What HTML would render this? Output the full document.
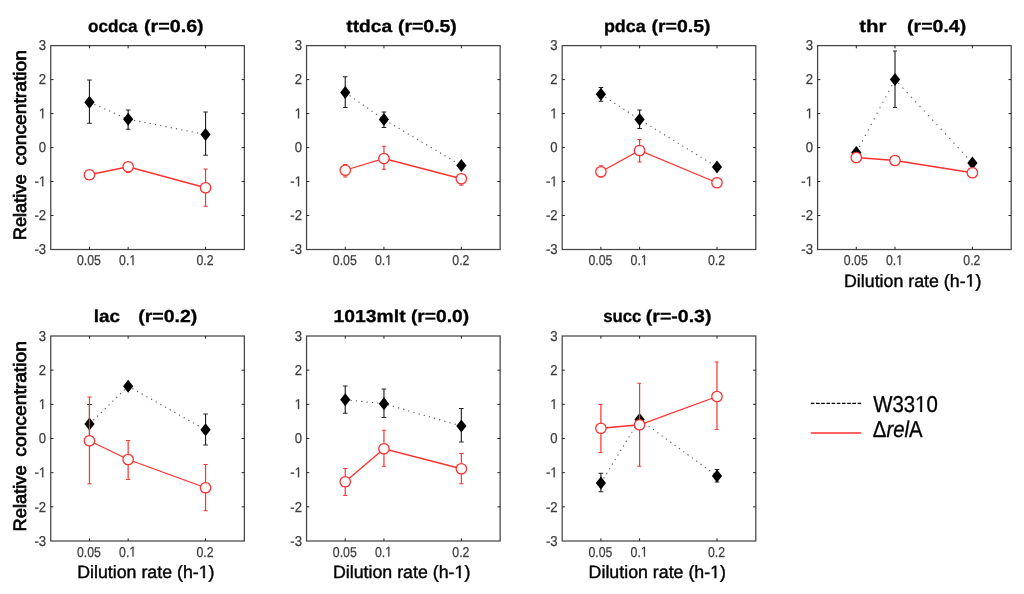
<!DOCTYPE html>
<html><head><meta charset="utf-8"><title>chart</title>
<style>
html,body{margin:0;padding:0;background:#fff;}
body{width:1024px;height:594px;overflow:hidden;font-family:"Liberation Sans",sans-serif;}
svg{display:block;filter:blur(0.35px)}
text{font-family:"Liberation Sans",sans-serif;text-rendering:geometricPrecision;}
.tk{font-size:14.3px;fill:#3c3c3c;stroke:#3c3c3c;stroke-width:0.25px;}
.tk1{fill:#3c3c3c;stroke:#3c3c3c;stroke-width:36;}
.lb{font-size:17.8px;fill:#000;stroke:#000;stroke-width:0.4px;}
.ti{font-size:17.4px;font-weight:bold;fill:#000;stroke:#000;stroke-width:0.3px;}
.lb1{fill:#000;stroke:#000;stroke-width:46;}
.yl{font-size:17.9px;fill:#000;stroke:#000;stroke-width:0.7px;}
.lg{font-size:22.9px;fill:#000;stroke:#000;stroke-width:0.3px;}
</style></head><body>
<svg width="1024" height="594" viewBox="0 0 1024 594">
<rect width="1024" height="594" fill="#fff"/>
<rect x="50.75" y="45.60" width="193.60" height="203.90" fill="none" stroke="#454545" stroke-width="1.25"/>
<line x1="89.45" y1="249.50" x2="89.45" y2="246.80" stroke="#222" stroke-width="1.0" />
<line x1="89.45" y1="45.60" x2="89.45" y2="48.30" stroke="#222" stroke-width="1.0" />
<g transform="translate(88.95 265.10) scale(0.86 1)"><text x="-13.92" y="0" class="tk">0.05</text></g>
<line x1="128.15" y1="249.50" x2="128.15" y2="246.80" stroke="#222" stroke-width="1.0" />
<line x1="128.15" y1="45.60" x2="128.15" y2="48.30" stroke="#222" stroke-width="1.0" />
<g transform="translate(127.65 265.10) scale(0.86 1)"><text x="-9.94" y="0" class="tk">0.</text><path class="tk1" transform="translate(1.99 0) scale(0.006982 -0.006982)" d="M515 0V1237L197 1010V1180L530 1409H696V0Z"/></g>
<line x1="205.55" y1="249.50" x2="205.55" y2="246.80" stroke="#222" stroke-width="1.0" />
<line x1="205.55" y1="45.60" x2="205.55" y2="48.30" stroke="#222" stroke-width="1.0" />
<g transform="translate(205.05 265.10) scale(0.86 1)"><text x="-9.94" y="0" class="tk">0.2</text></g>
<g transform="translate(46.15 254.20) scale(0.92 1)"><text x="-12.71" y="0" class="tk">-3</text></g>
<line x1="50.75" y1="215.52" x2="53.45" y2="215.52" stroke="#222" stroke-width="1.0" />
<line x1="244.35" y1="215.52" x2="241.65" y2="215.52" stroke="#222" stroke-width="1.0" />
<g transform="translate(46.15 220.22) scale(0.92 1)"><text x="-12.71" y="0" class="tk">-2</text></g>
<line x1="50.75" y1="181.53" x2="53.45" y2="181.53" stroke="#222" stroke-width="1.0" />
<line x1="244.35" y1="181.53" x2="241.65" y2="181.53" stroke="#222" stroke-width="1.0" />
<g transform="translate(46.15 186.23) scale(0.92 1)"><text x="-12.71" y="0" class="tk">-</text><path class="tk1" transform="translate(-7.95 0) scale(0.006982 -0.006982)" d="M515 0V1237L197 1010V1180L530 1409H696V0Z"/></g>
<line x1="50.75" y1="147.55" x2="53.45" y2="147.55" stroke="#222" stroke-width="1.0" />
<line x1="244.35" y1="147.55" x2="241.65" y2="147.55" stroke="#222" stroke-width="1.0" />
<g transform="translate(46.15 152.25) scale(0.92 1)"><text x="-7.95" y="0" class="tk">0</text></g>
<line x1="50.75" y1="113.57" x2="53.45" y2="113.57" stroke="#222" stroke-width="1.0" />
<line x1="244.35" y1="113.57" x2="241.65" y2="113.57" stroke="#222" stroke-width="1.0" />
<g transform="translate(46.15 118.27) scale(0.92 1)"><path class="tk1" transform="translate(-7.95 0) scale(0.006982 -0.006982)" d="M515 0V1237L197 1010V1180L530 1409H696V0Z"/></g>
<line x1="50.75" y1="79.58" x2="53.45" y2="79.58" stroke="#222" stroke-width="1.0" />
<line x1="244.35" y1="79.58" x2="241.65" y2="79.58" stroke="#222" stroke-width="1.0" />
<g transform="translate(46.15 84.28) scale(0.92 1)"><text x="-7.95" y="0" class="tk">2</text></g>
<g transform="translate(46.15 50.30) scale(0.92 1)"><text x="-7.95" y="0" class="tk">3</text></g>
<text x="88.10" y="31.60" class="ti" textLength="49.50" lengthAdjust="spacingAndGlyphs">ocdca</text>
<text x="143.90" y="31.60" class="ti" textLength="59.80" lengthAdjust="spacingAndGlyphs">(r=0.6)</text>
<polyline points="89.45,102.25 128.15,119.25 205.55,134.50" fill="none" stroke="#5a5a5a" stroke-width="1.1" stroke-dasharray="1.25 4.1"/>
<line x1="89.45" y1="80.00" x2="89.45" y2="123.25" stroke="#222" stroke-width="1.15" />
<line x1="87.15" y1="80.00" x2="91.75" y2="80.00" stroke="#222" stroke-width="1.0" />
<line x1="87.15" y1="123.25" x2="91.75" y2="123.25" stroke="#222" stroke-width="1.0" />
<path d="M89.45 95.65 L94.55 102.25 L89.45 108.85 L84.35 102.25 Z" fill="#000"/>
<line x1="128.15" y1="110.00" x2="128.15" y2="129.25" stroke="#222" stroke-width="1.15" />
<line x1="125.85" y1="110.00" x2="130.45" y2="110.00" stroke="#222" stroke-width="1.0" />
<line x1="125.85" y1="129.25" x2="130.45" y2="129.25" stroke="#222" stroke-width="1.0" />
<path d="M128.15 112.65 L133.25 119.25 L128.15 125.85 L123.05 119.25 Z" fill="#000"/>
<line x1="205.55" y1="112.00" x2="205.55" y2="155.25" stroke="#222" stroke-width="1.15" />
<line x1="203.25" y1="112.00" x2="207.85" y2="112.00" stroke="#222" stroke-width="1.0" />
<line x1="203.25" y1="155.25" x2="207.85" y2="155.25" stroke="#222" stroke-width="1.0" />
<path d="M205.55 127.90 L210.65 134.50 L205.55 141.10 L200.45 134.50 Z" fill="#000"/>
<line x1="128.15" y1="166.75" x2="128.15" y2="172.50" stroke="#ff3030" stroke-width="1.2" />
<line x1="126.05" y1="172.50" x2="130.25" y2="172.50" stroke="#ff3030" stroke-width="1.0" />
<line x1="205.55" y1="169.00" x2="205.55" y2="206.25" stroke="#ff3030" stroke-width="1.2" />
<line x1="203.45" y1="169.00" x2="207.65" y2="169.00" stroke="#ff3030" stroke-width="1.0" />
<line x1="203.45" y1="206.25" x2="207.65" y2="206.25" stroke="#ff3030" stroke-width="1.0" />
<polyline points="89.45,174.75 128.15,166.75 205.55,187.75" fill="none" stroke="#ff3030" stroke-width="1.3"/>
<circle cx="89.45" cy="174.75" r="5.2" fill="#fff" stroke="#ff3030" stroke-width="1.3"/>
<circle cx="128.15" cy="166.75" r="5.2" fill="#fff" stroke="#ff3030" stroke-width="1.3"/>
<circle cx="205.55" cy="187.75" r="5.2" fill="#fff" stroke="#ff3030" stroke-width="1.3"/>
<rect x="306.55" y="45.60" width="193.60" height="203.90" fill="none" stroke="#454545" stroke-width="1.25"/>
<line x1="345.25" y1="249.50" x2="345.25" y2="246.80" stroke="#222" stroke-width="1.0" />
<line x1="345.25" y1="45.60" x2="345.25" y2="48.30" stroke="#222" stroke-width="1.0" />
<g transform="translate(344.75 265.10) scale(0.86 1)"><text x="-13.92" y="0" class="tk">0.05</text></g>
<line x1="383.95" y1="249.50" x2="383.95" y2="246.80" stroke="#222" stroke-width="1.0" />
<line x1="383.95" y1="45.60" x2="383.95" y2="48.30" stroke="#222" stroke-width="1.0" />
<g transform="translate(383.45 265.10) scale(0.86 1)"><text x="-9.94" y="0" class="tk">0.</text><path class="tk1" transform="translate(1.99 0) scale(0.006982 -0.006982)" d="M515 0V1237L197 1010V1180L530 1409H696V0Z"/></g>
<line x1="461.35" y1="249.50" x2="461.35" y2="246.80" stroke="#222" stroke-width="1.0" />
<line x1="461.35" y1="45.60" x2="461.35" y2="48.30" stroke="#222" stroke-width="1.0" />
<g transform="translate(460.85 265.10) scale(0.86 1)"><text x="-9.94" y="0" class="tk">0.2</text></g>
<g transform="translate(301.95 254.20) scale(0.92 1)"><text x="-12.71" y="0" class="tk">-3</text></g>
<line x1="306.55" y1="215.52" x2="309.25" y2="215.52" stroke="#222" stroke-width="1.0" />
<line x1="500.15" y1="215.52" x2="497.45" y2="215.52" stroke="#222" stroke-width="1.0" />
<g transform="translate(301.95 220.22) scale(0.92 1)"><text x="-12.71" y="0" class="tk">-2</text></g>
<line x1="306.55" y1="181.53" x2="309.25" y2="181.53" stroke="#222" stroke-width="1.0" />
<line x1="500.15" y1="181.53" x2="497.45" y2="181.53" stroke="#222" stroke-width="1.0" />
<g transform="translate(301.95 186.23) scale(0.92 1)"><text x="-12.71" y="0" class="tk">-</text><path class="tk1" transform="translate(-7.95 0) scale(0.006982 -0.006982)" d="M515 0V1237L197 1010V1180L530 1409H696V0Z"/></g>
<line x1="306.55" y1="147.55" x2="309.25" y2="147.55" stroke="#222" stroke-width="1.0" />
<line x1="500.15" y1="147.55" x2="497.45" y2="147.55" stroke="#222" stroke-width="1.0" />
<g transform="translate(301.95 152.25) scale(0.92 1)"><text x="-7.95" y="0" class="tk">0</text></g>
<line x1="306.55" y1="113.57" x2="309.25" y2="113.57" stroke="#222" stroke-width="1.0" />
<line x1="500.15" y1="113.57" x2="497.45" y2="113.57" stroke="#222" stroke-width="1.0" />
<g transform="translate(301.95 118.27) scale(0.92 1)"><path class="tk1" transform="translate(-7.95 0) scale(0.006982 -0.006982)" d="M515 0V1237L197 1010V1180L530 1409H696V0Z"/></g>
<line x1="306.55" y1="79.58" x2="309.25" y2="79.58" stroke="#222" stroke-width="1.0" />
<line x1="500.15" y1="79.58" x2="497.45" y2="79.58" stroke="#222" stroke-width="1.0" />
<g transform="translate(301.95 84.28) scale(0.92 1)"><text x="-7.95" y="0" class="tk">2</text></g>
<g transform="translate(301.95 50.30) scale(0.92 1)"><text x="-7.95" y="0" class="tk">3</text></g>
<text x="346.30" y="31.60" class="ti" textLength="45.80" lengthAdjust="spacingAndGlyphs">ttdca</text>
<text x="398.00" y="31.60" class="ti" textLength="58.80" lengthAdjust="spacingAndGlyphs">(r=0.5)</text>
<polyline points="345.25,92.50 383.95,119.50 461.35,165.50" fill="none" stroke="#5a5a5a" stroke-width="1.1" stroke-dasharray="1.25 4.1"/>
<line x1="345.25" y1="76.75" x2="345.25" y2="107.50" stroke="#222" stroke-width="1.15" />
<line x1="342.95" y1="76.75" x2="347.55" y2="76.75" stroke="#222" stroke-width="1.0" />
<line x1="342.95" y1="107.50" x2="347.55" y2="107.50" stroke="#222" stroke-width="1.0" />
<path d="M345.25 85.90 L350.35 92.50 L345.25 99.10 L340.15 92.50 Z" fill="#000"/>
<line x1="383.95" y1="112.00" x2="383.95" y2="127.50" stroke="#222" stroke-width="1.15" />
<line x1="381.65" y1="112.00" x2="386.25" y2="112.00" stroke="#222" stroke-width="1.0" />
<line x1="381.65" y1="127.50" x2="386.25" y2="127.50" stroke="#222" stroke-width="1.0" />
<path d="M383.95 112.90 L389.05 119.50 L383.95 126.10 L378.85 119.50 Z" fill="#000"/>
<path d="M461.35 158.90 L466.45 165.50 L461.35 172.10 L456.25 165.50 Z" fill="#000"/>
<line x1="345.25" y1="164.50" x2="345.25" y2="177.00" stroke="#ff3030" stroke-width="1.2" />
<line x1="343.15" y1="164.50" x2="347.35" y2="164.50" stroke="#ff3030" stroke-width="1.0" />
<line x1="343.15" y1="177.00" x2="347.35" y2="177.00" stroke="#ff3030" stroke-width="1.0" />
<line x1="383.95" y1="146.25" x2="383.95" y2="169.25" stroke="#ff3030" stroke-width="1.2" />
<line x1="381.85" y1="146.25" x2="386.05" y2="146.25" stroke="#ff3030" stroke-width="1.0" />
<line x1="381.85" y1="169.25" x2="386.05" y2="169.25" stroke="#ff3030" stroke-width="1.0" />
<line x1="461.35" y1="178.75" x2="461.35" y2="185.20" stroke="#ff3030" stroke-width="1.2" />
<line x1="459.25" y1="185.20" x2="463.45" y2="185.20" stroke="#ff3030" stroke-width="1.0" />
<polyline points="345.25,170.25 383.95,158.50 461.35,178.75" fill="none" stroke="#ff3030" stroke-width="1.3"/>
<circle cx="345.25" cy="170.25" r="5.2" fill="#fff" stroke="#ff3030" stroke-width="1.3"/>
<circle cx="383.95" cy="158.50" r="5.2" fill="#fff" stroke="#ff3030" stroke-width="1.3"/>
<circle cx="461.35" cy="178.75" r="5.2" fill="#fff" stroke="#ff3030" stroke-width="1.3"/>
<rect x="562.20" y="45.60" width="193.60" height="203.90" fill="none" stroke="#454545" stroke-width="1.25"/>
<line x1="600.90" y1="249.50" x2="600.90" y2="246.80" stroke="#222" stroke-width="1.0" />
<line x1="600.90" y1="45.60" x2="600.90" y2="48.30" stroke="#222" stroke-width="1.0" />
<g transform="translate(600.40 265.10) scale(0.86 1)"><text x="-13.92" y="0" class="tk">0.05</text></g>
<line x1="639.60" y1="249.50" x2="639.60" y2="246.80" stroke="#222" stroke-width="1.0" />
<line x1="639.60" y1="45.60" x2="639.60" y2="48.30" stroke="#222" stroke-width="1.0" />
<g transform="translate(639.10 265.10) scale(0.86 1)"><text x="-9.94" y="0" class="tk">0.</text><path class="tk1" transform="translate(1.99 0) scale(0.006982 -0.006982)" d="M515 0V1237L197 1010V1180L530 1409H696V0Z"/></g>
<line x1="717.00" y1="249.50" x2="717.00" y2="246.80" stroke="#222" stroke-width="1.0" />
<line x1="717.00" y1="45.60" x2="717.00" y2="48.30" stroke="#222" stroke-width="1.0" />
<g transform="translate(716.50 265.10) scale(0.86 1)"><text x="-9.94" y="0" class="tk">0.2</text></g>
<g transform="translate(557.60 254.20) scale(0.92 1)"><text x="-12.71" y="0" class="tk">-3</text></g>
<line x1="562.20" y1="215.52" x2="564.90" y2="215.52" stroke="#222" stroke-width="1.0" />
<line x1="755.80" y1="215.52" x2="753.10" y2="215.52" stroke="#222" stroke-width="1.0" />
<g transform="translate(557.60 220.22) scale(0.92 1)"><text x="-12.71" y="0" class="tk">-2</text></g>
<line x1="562.20" y1="181.53" x2="564.90" y2="181.53" stroke="#222" stroke-width="1.0" />
<line x1="755.80" y1="181.53" x2="753.10" y2="181.53" stroke="#222" stroke-width="1.0" />
<g transform="translate(557.60 186.23) scale(0.92 1)"><text x="-12.71" y="0" class="tk">-</text><path class="tk1" transform="translate(-7.95 0) scale(0.006982 -0.006982)" d="M515 0V1237L197 1010V1180L530 1409H696V0Z"/></g>
<line x1="562.20" y1="147.55" x2="564.90" y2="147.55" stroke="#222" stroke-width="1.0" />
<line x1="755.80" y1="147.55" x2="753.10" y2="147.55" stroke="#222" stroke-width="1.0" />
<g transform="translate(557.60 152.25) scale(0.92 1)"><text x="-7.95" y="0" class="tk">0</text></g>
<line x1="562.20" y1="113.57" x2="564.90" y2="113.57" stroke="#222" stroke-width="1.0" />
<line x1="755.80" y1="113.57" x2="753.10" y2="113.57" stroke="#222" stroke-width="1.0" />
<g transform="translate(557.60 118.27) scale(0.92 1)"><path class="tk1" transform="translate(-7.95 0) scale(0.006982 -0.006982)" d="M515 0V1237L197 1010V1180L530 1409H696V0Z"/></g>
<line x1="562.20" y1="79.58" x2="564.90" y2="79.58" stroke="#222" stroke-width="1.0" />
<line x1="755.80" y1="79.58" x2="753.10" y2="79.58" stroke="#222" stroke-width="1.0" />
<g transform="translate(557.60 84.28) scale(0.92 1)"><text x="-7.95" y="0" class="tk">2</text></g>
<g transform="translate(557.60 50.30) scale(0.92 1)"><text x="-7.95" y="0" class="tk">3</text></g>
<text x="603.90" y="31.60" class="ti" textLength="41.90" lengthAdjust="spacingAndGlyphs">pdca</text>
<text x="651.50" y="31.60" class="ti" textLength="59.10" lengthAdjust="spacingAndGlyphs">(r=0.5)</text>
<polyline points="600.90,94.25 639.60,119.50 717.00,167.00" fill="none" stroke="#5a5a5a" stroke-width="1.1" stroke-dasharray="1.25 4.1"/>
<line x1="600.90" y1="87.50" x2="600.90" y2="101.25" stroke="#222" stroke-width="1.15" />
<line x1="598.60" y1="87.50" x2="603.20" y2="87.50" stroke="#222" stroke-width="1.0" />
<line x1="598.60" y1="101.25" x2="603.20" y2="101.25" stroke="#222" stroke-width="1.0" />
<path d="M600.90 87.65 L606.00 94.25 L600.90 100.85 L595.80 94.25 Z" fill="#000"/>
<line x1="639.60" y1="110.00" x2="639.60" y2="128.50" stroke="#222" stroke-width="1.15" />
<line x1="637.30" y1="110.00" x2="641.90" y2="110.00" stroke="#222" stroke-width="1.0" />
<line x1="637.30" y1="128.50" x2="641.90" y2="128.50" stroke="#222" stroke-width="1.0" />
<path d="M639.60 112.90 L644.70 119.50 L639.60 126.10 L634.50 119.50 Z" fill="#000"/>
<path d="M717.00 160.40 L722.10 167.00 L717.00 173.60 L711.90 167.00 Z" fill="#000"/>
<line x1="600.90" y1="165.75" x2="600.90" y2="177.00" stroke="#ff3030" stroke-width="1.2" />
<line x1="598.80" y1="165.75" x2="603.00" y2="165.75" stroke="#ff3030" stroke-width="1.0" />
<line x1="598.80" y1="177.00" x2="603.00" y2="177.00" stroke="#ff3030" stroke-width="1.0" />
<line x1="639.60" y1="139.50" x2="639.60" y2="162.00" stroke="#ff3030" stroke-width="1.2" />
<line x1="637.50" y1="139.50" x2="641.70" y2="139.50" stroke="#ff3030" stroke-width="1.0" />
<line x1="637.50" y1="162.00" x2="641.70" y2="162.00" stroke="#ff3030" stroke-width="1.0" />
<polyline points="600.90,171.75 639.60,150.50 717.00,182.75" fill="none" stroke="#ff3030" stroke-width="1.3"/>
<circle cx="600.90" cy="171.75" r="5.2" fill="#fff" stroke="#ff3030" stroke-width="1.3"/>
<circle cx="639.60" cy="150.50" r="5.2" fill="#fff" stroke="#ff3030" stroke-width="1.3"/>
<circle cx="717.00" cy="182.75" r="5.2" fill="#fff" stroke="#ff3030" stroke-width="1.3"/>
<rect x="817.60" y="45.60" width="193.60" height="203.90" fill="none" stroke="#454545" stroke-width="1.25"/>
<line x1="856.30" y1="249.50" x2="856.30" y2="246.80" stroke="#222" stroke-width="1.0" />
<line x1="856.30" y1="45.60" x2="856.30" y2="48.30" stroke="#222" stroke-width="1.0" />
<g transform="translate(855.80 265.10) scale(0.86 1)"><text x="-13.92" y="0" class="tk">0.05</text></g>
<line x1="895.00" y1="249.50" x2="895.00" y2="246.80" stroke="#222" stroke-width="1.0" />
<line x1="895.00" y1="45.60" x2="895.00" y2="48.30" stroke="#222" stroke-width="1.0" />
<g transform="translate(894.50 265.10) scale(0.86 1)"><text x="-9.94" y="0" class="tk">0.</text><path class="tk1" transform="translate(1.99 0) scale(0.006982 -0.006982)" d="M515 0V1237L197 1010V1180L530 1409H696V0Z"/></g>
<line x1="972.40" y1="249.50" x2="972.40" y2="246.80" stroke="#222" stroke-width="1.0" />
<line x1="972.40" y1="45.60" x2="972.40" y2="48.30" stroke="#222" stroke-width="1.0" />
<g transform="translate(971.90 265.10) scale(0.86 1)"><text x="-9.94" y="0" class="tk">0.2</text></g>
<g transform="translate(813.00 254.20) scale(0.92 1)"><text x="-12.71" y="0" class="tk">-3</text></g>
<line x1="817.60" y1="215.52" x2="820.30" y2="215.52" stroke="#222" stroke-width="1.0" />
<line x1="1011.20" y1="215.52" x2="1008.50" y2="215.52" stroke="#222" stroke-width="1.0" />
<g transform="translate(813.00 220.22) scale(0.92 1)"><text x="-12.71" y="0" class="tk">-2</text></g>
<line x1="817.60" y1="181.53" x2="820.30" y2="181.53" stroke="#222" stroke-width="1.0" />
<line x1="1011.20" y1="181.53" x2="1008.50" y2="181.53" stroke="#222" stroke-width="1.0" />
<g transform="translate(813.00 186.23) scale(0.92 1)"><text x="-12.71" y="0" class="tk">-</text><path class="tk1" transform="translate(-7.95 0) scale(0.006982 -0.006982)" d="M515 0V1237L197 1010V1180L530 1409H696V0Z"/></g>
<line x1="817.60" y1="147.55" x2="820.30" y2="147.55" stroke="#222" stroke-width="1.0" />
<line x1="1011.20" y1="147.55" x2="1008.50" y2="147.55" stroke="#222" stroke-width="1.0" />
<g transform="translate(813.00 152.25) scale(0.92 1)"><text x="-7.95" y="0" class="tk">0</text></g>
<line x1="817.60" y1="113.57" x2="820.30" y2="113.57" stroke="#222" stroke-width="1.0" />
<line x1="1011.20" y1="113.57" x2="1008.50" y2="113.57" stroke="#222" stroke-width="1.0" />
<g transform="translate(813.00 118.27) scale(0.92 1)"><path class="tk1" transform="translate(-7.95 0) scale(0.006982 -0.006982)" d="M515 0V1237L197 1010V1180L530 1409H696V0Z"/></g>
<line x1="817.60" y1="79.58" x2="820.30" y2="79.58" stroke="#222" stroke-width="1.0" />
<line x1="1011.20" y1="79.58" x2="1008.50" y2="79.58" stroke="#222" stroke-width="1.0" />
<g transform="translate(813.00 84.28) scale(0.92 1)"><text x="-7.95" y="0" class="tk">2</text></g>
<g transform="translate(813.00 50.30) scale(0.92 1)"><text x="-7.95" y="0" class="tk">3</text></g>
<text x="859.30" y="31.60" class="ti" textLength="27.30" lengthAdjust="spacingAndGlyphs">thr</text>
<text x="907.10" y="31.60" class="ti" textLength="59.10" lengthAdjust="spacingAndGlyphs">(r=0.4)</text>
<text x="844.01" y="286.60" class="lb">Dilution rate (h-</text>
<path class="lb1" transform="translate(965.58 286.60) scale(0.008691 -0.008691)" d="M515 0V1237L197 1010V1180L530 1409H696V0Z"/>
<text x="975.47" y="286.60" class="lb">)</text>
<polyline points="856.30,152.50 895.00,79.50 972.40,163.00" fill="none" stroke="#5a5a5a" stroke-width="1.1" stroke-dasharray="1.25 5.0"/>
<path d="M856.30 145.90 L861.40 152.50 L856.30 159.10 L851.20 152.50 Z" fill="#000"/>
<line x1="895.00" y1="51.00" x2="895.00" y2="107.50" stroke="#222" stroke-width="1.15" />
<line x1="893.00" y1="51.00" x2="897.00" y2="51.00" stroke="#222" stroke-width="1.0" />
<line x1="893.00" y1="107.50" x2="897.00" y2="107.50" stroke="#222" stroke-width="1.0" />
<path d="M895.00 72.90 L900.10 79.50 L895.00 86.10 L889.90 79.50 Z" fill="#000"/>
<path d="M972.40 156.40 L977.50 163.00 L972.40 169.60 L967.30 163.00 Z" fill="#000"/>
<polyline points="856.30,157.50 895.00,160.50 972.40,172.75" fill="none" stroke="#ff3030" stroke-width="1.3"/>
<circle cx="856.30" cy="157.50" r="5.2" fill="#fff" stroke="#ff3030" stroke-width="1.3"/>
<circle cx="895.00" cy="160.50" r="5.2" fill="#fff" stroke="#ff3030" stroke-width="1.3"/>
<circle cx="972.40" cy="172.75" r="5.2" fill="#fff" stroke="#ff3030" stroke-width="1.3"/>
<rect x="50.75" y="336.00" width="193.60" height="205.00" fill="none" stroke="#454545" stroke-width="1.25"/>
<line x1="89.45" y1="541.00" x2="89.45" y2="538.30" stroke="#222" stroke-width="1.0" />
<line x1="89.45" y1="336.00" x2="89.45" y2="338.70" stroke="#222" stroke-width="1.0" />
<g transform="translate(88.95 556.60) scale(0.86 1)"><text x="-13.92" y="0" class="tk">0.05</text></g>
<line x1="128.15" y1="541.00" x2="128.15" y2="538.30" stroke="#222" stroke-width="1.0" />
<line x1="128.15" y1="336.00" x2="128.15" y2="338.70" stroke="#222" stroke-width="1.0" />
<g transform="translate(127.65 556.60) scale(0.86 1)"><text x="-9.94" y="0" class="tk">0.</text><path class="tk1" transform="translate(1.99 0) scale(0.006982 -0.006982)" d="M515 0V1237L197 1010V1180L530 1409H696V0Z"/></g>
<line x1="205.55" y1="541.00" x2="205.55" y2="538.30" stroke="#222" stroke-width="1.0" />
<line x1="205.55" y1="336.00" x2="205.55" y2="338.70" stroke="#222" stroke-width="1.0" />
<g transform="translate(205.05 556.60) scale(0.86 1)"><text x="-9.94" y="0" class="tk">0.2</text></g>
<g transform="translate(46.15 545.70) scale(0.92 1)"><text x="-12.71" y="0" class="tk">-3</text></g>
<line x1="50.75" y1="506.83" x2="53.45" y2="506.83" stroke="#222" stroke-width="1.0" />
<line x1="244.35" y1="506.83" x2="241.65" y2="506.83" stroke="#222" stroke-width="1.0" />
<g transform="translate(46.15 511.53) scale(0.92 1)"><text x="-12.71" y="0" class="tk">-2</text></g>
<line x1="50.75" y1="472.67" x2="53.45" y2="472.67" stroke="#222" stroke-width="1.0" />
<line x1="244.35" y1="472.67" x2="241.65" y2="472.67" stroke="#222" stroke-width="1.0" />
<g transform="translate(46.15 477.37) scale(0.92 1)"><text x="-12.71" y="0" class="tk">-</text><path class="tk1" transform="translate(-7.95 0) scale(0.006982 -0.006982)" d="M515 0V1237L197 1010V1180L530 1409H696V0Z"/></g>
<line x1="50.75" y1="438.50" x2="53.45" y2="438.50" stroke="#222" stroke-width="1.0" />
<line x1="244.35" y1="438.50" x2="241.65" y2="438.50" stroke="#222" stroke-width="1.0" />
<g transform="translate(46.15 443.20) scale(0.92 1)"><text x="-7.95" y="0" class="tk">0</text></g>
<line x1="50.75" y1="404.33" x2="53.45" y2="404.33" stroke="#222" stroke-width="1.0" />
<line x1="244.35" y1="404.33" x2="241.65" y2="404.33" stroke="#222" stroke-width="1.0" />
<g transform="translate(46.15 409.03) scale(0.92 1)"><path class="tk1" transform="translate(-7.95 0) scale(0.006982 -0.006982)" d="M515 0V1237L197 1010V1180L530 1409H696V0Z"/></g>
<line x1="50.75" y1="370.17" x2="53.45" y2="370.17" stroke="#222" stroke-width="1.0" />
<line x1="244.35" y1="370.17" x2="241.65" y2="370.17" stroke="#222" stroke-width="1.0" />
<g transform="translate(46.15 374.87) scale(0.92 1)"><text x="-7.95" y="0" class="tk">2</text></g>
<g transform="translate(46.15 340.70) scale(0.92 1)"><text x="-7.95" y="0" class="tk">3</text></g>
<text x="93.70" y="322.00" class="ti" textLength="26.20" lengthAdjust="spacingAndGlyphs">lac</text>
<text x="138.20" y="322.00" class="ti" textLength="59.10" lengthAdjust="spacingAndGlyphs">(r=0.2)</text>
<text x="77.16" y="578.10" class="lb">Dilution rate (h-</text>
<path class="lb1" transform="translate(198.73 578.10) scale(0.008691 -0.008691)" d="M515 0V1237L197 1010V1180L530 1409H696V0Z"/>
<text x="208.62" y="578.10" class="lb">)</text>
<polyline points="89.45,424.00 128.15,386.25 205.55,429.75" fill="none" stroke="#5a5a5a" stroke-width="1.1" stroke-dasharray="1.25 4.1"/>
<line x1="89.45" y1="404.50" x2="89.45" y2="443.00" stroke="#222" stroke-width="1.15" />
<line x1="87.15" y1="404.50" x2="91.75" y2="404.50" stroke="#222" stroke-width="1.0" />
<line x1="87.15" y1="443.00" x2="91.75" y2="443.00" stroke="#222" stroke-width="1.0" />
<path d="M89.45 417.40 L94.55 424.00 L89.45 430.60 L84.35 424.00 Z" fill="#000"/>
<path d="M128.15 379.65 L133.25 386.25 L128.15 392.85 L123.05 386.25 Z" fill="#000"/>
<line x1="205.55" y1="414.00" x2="205.55" y2="445.00" stroke="#222" stroke-width="1.15" />
<line x1="203.25" y1="414.00" x2="207.85" y2="414.00" stroke="#222" stroke-width="1.0" />
<line x1="203.25" y1="445.00" x2="207.85" y2="445.00" stroke="#222" stroke-width="1.0" />
<path d="M205.55 423.15 L210.65 429.75 L205.55 436.35 L200.45 429.75 Z" fill="#000"/>
<line x1="89.45" y1="397.00" x2="89.45" y2="483.75" stroke="#ff3030" stroke-width="1.2" />
<line x1="87.35" y1="397.00" x2="91.55" y2="397.00" stroke="#ff3030" stroke-width="1.0" />
<line x1="87.35" y1="483.75" x2="91.55" y2="483.75" stroke="#ff3030" stroke-width="1.0" />
<line x1="128.15" y1="440.50" x2="128.15" y2="479.50" stroke="#ff3030" stroke-width="1.2" />
<line x1="126.05" y1="440.50" x2="130.25" y2="440.50" stroke="#ff3030" stroke-width="1.0" />
<line x1="126.05" y1="479.50" x2="130.25" y2="479.50" stroke="#ff3030" stroke-width="1.0" />
<line x1="205.55" y1="464.50" x2="205.55" y2="510.75" stroke="#ff3030" stroke-width="1.2" />
<line x1="203.45" y1="464.50" x2="207.65" y2="464.50" stroke="#ff3030" stroke-width="1.0" />
<line x1="203.45" y1="510.75" x2="207.65" y2="510.75" stroke="#ff3030" stroke-width="1.0" />
<polyline points="89.45,440.75 128.15,459.50 205.55,487.75" fill="none" stroke="#ff3030" stroke-width="1.3"/>
<circle cx="89.45" cy="440.75" r="5.2" fill="#fff" stroke="#ff3030" stroke-width="1.3"/>
<circle cx="128.15" cy="459.50" r="5.2" fill="#fff" stroke="#ff3030" stroke-width="1.3"/>
<circle cx="205.55" cy="487.75" r="5.2" fill="#fff" stroke="#ff3030" stroke-width="1.3"/>
<rect x="306.55" y="336.00" width="193.60" height="205.00" fill="none" stroke="#454545" stroke-width="1.25"/>
<line x1="345.25" y1="541.00" x2="345.25" y2="538.30" stroke="#222" stroke-width="1.0" />
<line x1="345.25" y1="336.00" x2="345.25" y2="338.70" stroke="#222" stroke-width="1.0" />
<g transform="translate(344.75 556.60) scale(0.86 1)"><text x="-13.92" y="0" class="tk">0.05</text></g>
<line x1="383.95" y1="541.00" x2="383.95" y2="538.30" stroke="#222" stroke-width="1.0" />
<line x1="383.95" y1="336.00" x2="383.95" y2="338.70" stroke="#222" stroke-width="1.0" />
<g transform="translate(383.45 556.60) scale(0.86 1)"><text x="-9.94" y="0" class="tk">0.</text><path class="tk1" transform="translate(1.99 0) scale(0.006982 -0.006982)" d="M515 0V1237L197 1010V1180L530 1409H696V0Z"/></g>
<line x1="461.35" y1="541.00" x2="461.35" y2="538.30" stroke="#222" stroke-width="1.0" />
<line x1="461.35" y1="336.00" x2="461.35" y2="338.70" stroke="#222" stroke-width="1.0" />
<g transform="translate(460.85 556.60) scale(0.86 1)"><text x="-9.94" y="0" class="tk">0.2</text></g>
<g transform="translate(301.95 545.70) scale(0.92 1)"><text x="-12.71" y="0" class="tk">-3</text></g>
<line x1="306.55" y1="506.83" x2="309.25" y2="506.83" stroke="#222" stroke-width="1.0" />
<line x1="500.15" y1="506.83" x2="497.45" y2="506.83" stroke="#222" stroke-width="1.0" />
<g transform="translate(301.95 511.53) scale(0.92 1)"><text x="-12.71" y="0" class="tk">-2</text></g>
<line x1="306.55" y1="472.67" x2="309.25" y2="472.67" stroke="#222" stroke-width="1.0" />
<line x1="500.15" y1="472.67" x2="497.45" y2="472.67" stroke="#222" stroke-width="1.0" />
<g transform="translate(301.95 477.37) scale(0.92 1)"><text x="-12.71" y="0" class="tk">-</text><path class="tk1" transform="translate(-7.95 0) scale(0.006982 -0.006982)" d="M515 0V1237L197 1010V1180L530 1409H696V0Z"/></g>
<line x1="306.55" y1="438.50" x2="309.25" y2="438.50" stroke="#222" stroke-width="1.0" />
<line x1="500.15" y1="438.50" x2="497.45" y2="438.50" stroke="#222" stroke-width="1.0" />
<g transform="translate(301.95 443.20) scale(0.92 1)"><text x="-7.95" y="0" class="tk">0</text></g>
<line x1="306.55" y1="404.33" x2="309.25" y2="404.33" stroke="#222" stroke-width="1.0" />
<line x1="500.15" y1="404.33" x2="497.45" y2="404.33" stroke="#222" stroke-width="1.0" />
<g transform="translate(301.95 409.03) scale(0.92 1)"><path class="tk1" transform="translate(-7.95 0) scale(0.006982 -0.006982)" d="M515 0V1237L197 1010V1180L530 1409H696V0Z"/></g>
<line x1="306.55" y1="370.17" x2="309.25" y2="370.17" stroke="#222" stroke-width="1.0" />
<line x1="500.15" y1="370.17" x2="497.45" y2="370.17" stroke="#222" stroke-width="1.0" />
<g transform="translate(301.95 374.87) scale(0.92 1)"><text x="-7.95" y="0" class="tk">2</text></g>
<g transform="translate(301.95 340.70) scale(0.92 1)"><text x="-7.95" y="0" class="tk">3</text></g>
<text x="333.60" y="322.00" class="ti" textLength="72.00" lengthAdjust="spacingAndGlyphs">1013mlt</text>
<text x="410.90" y="322.00" class="ti" textLength="58.30" lengthAdjust="spacingAndGlyphs">(r=0.0)</text>
<text x="332.96" y="578.10" class="lb">Dilution rate (h-</text>
<path class="lb1" transform="translate(454.53 578.10) scale(0.008691 -0.008691)" d="M515 0V1237L197 1010V1180L530 1409H696V0Z"/>
<text x="464.42" y="578.10" class="lb">)</text>
<polyline points="345.25,399.75 383.95,403.75 461.35,426.00" fill="none" stroke="#5a5a5a" stroke-width="1.1" stroke-dasharray="1.25 4.1"/>
<line x1="345.25" y1="386.00" x2="345.25" y2="413.25" stroke="#222" stroke-width="1.15" />
<line x1="342.95" y1="386.00" x2="347.55" y2="386.00" stroke="#222" stroke-width="1.0" />
<line x1="342.95" y1="413.25" x2="347.55" y2="413.25" stroke="#222" stroke-width="1.0" />
<path d="M345.25 393.15 L350.35 399.75 L345.25 406.35 L340.15 399.75 Z" fill="#000"/>
<line x1="383.95" y1="389.00" x2="383.95" y2="417.50" stroke="#222" stroke-width="1.15" />
<line x1="381.65" y1="389.00" x2="386.25" y2="389.00" stroke="#222" stroke-width="1.0" />
<line x1="381.65" y1="417.50" x2="386.25" y2="417.50" stroke="#222" stroke-width="1.0" />
<path d="M383.95 397.15 L389.05 403.75 L383.95 410.35 L378.85 403.75 Z" fill="#000"/>
<line x1="461.35" y1="408.50" x2="461.35" y2="442.00" stroke="#222" stroke-width="1.15" />
<line x1="459.05" y1="408.50" x2="463.65" y2="408.50" stroke="#222" stroke-width="1.0" />
<line x1="459.05" y1="442.00" x2="463.65" y2="442.00" stroke="#222" stroke-width="1.0" />
<path d="M461.35 419.40 L466.45 426.00 L461.35 432.60 L456.25 426.00 Z" fill="#000"/>
<line x1="345.25" y1="468.50" x2="345.25" y2="495.50" stroke="#ff3030" stroke-width="1.2" />
<line x1="343.15" y1="468.50" x2="347.35" y2="468.50" stroke="#ff3030" stroke-width="1.0" />
<line x1="343.15" y1="495.50" x2="347.35" y2="495.50" stroke="#ff3030" stroke-width="1.0" />
<line x1="383.95" y1="430.25" x2="383.95" y2="466.25" stroke="#ff3030" stroke-width="1.2" />
<line x1="381.85" y1="430.25" x2="386.05" y2="430.25" stroke="#ff3030" stroke-width="1.0" />
<line x1="381.85" y1="466.25" x2="386.05" y2="466.25" stroke="#ff3030" stroke-width="1.0" />
<line x1="461.35" y1="453.50" x2="461.35" y2="483.75" stroke="#ff3030" stroke-width="1.2" />
<line x1="459.25" y1="453.50" x2="463.45" y2="453.50" stroke="#ff3030" stroke-width="1.0" />
<line x1="459.25" y1="483.75" x2="463.45" y2="483.75" stroke="#ff3030" stroke-width="1.0" />
<polyline points="345.25,481.75 383.95,448.75 461.35,468.75" fill="none" stroke="#ff3030" stroke-width="1.3"/>
<circle cx="345.25" cy="481.75" r="5.2" fill="#fff" stroke="#ff3030" stroke-width="1.3"/>
<circle cx="383.95" cy="448.75" r="5.2" fill="#fff" stroke="#ff3030" stroke-width="1.3"/>
<circle cx="461.35" cy="468.75" r="5.2" fill="#fff" stroke="#ff3030" stroke-width="1.3"/>
<rect x="562.20" y="336.00" width="193.60" height="205.00" fill="none" stroke="#454545" stroke-width="1.25"/>
<line x1="600.90" y1="541.00" x2="600.90" y2="538.30" stroke="#222" stroke-width="1.0" />
<line x1="600.90" y1="336.00" x2="600.90" y2="338.70" stroke="#222" stroke-width="1.0" />
<g transform="translate(600.40 556.60) scale(0.86 1)"><text x="-13.92" y="0" class="tk">0.05</text></g>
<line x1="639.60" y1="541.00" x2="639.60" y2="538.30" stroke="#222" stroke-width="1.0" />
<line x1="639.60" y1="336.00" x2="639.60" y2="338.70" stroke="#222" stroke-width="1.0" />
<g transform="translate(639.10 556.60) scale(0.86 1)"><text x="-9.94" y="0" class="tk">0.</text><path class="tk1" transform="translate(1.99 0) scale(0.006982 -0.006982)" d="M515 0V1237L197 1010V1180L530 1409H696V0Z"/></g>
<line x1="717.00" y1="541.00" x2="717.00" y2="538.30" stroke="#222" stroke-width="1.0" />
<line x1="717.00" y1="336.00" x2="717.00" y2="338.70" stroke="#222" stroke-width="1.0" />
<g transform="translate(716.50 556.60) scale(0.86 1)"><text x="-9.94" y="0" class="tk">0.2</text></g>
<g transform="translate(557.60 545.70) scale(0.92 1)"><text x="-12.71" y="0" class="tk">-3</text></g>
<line x1="562.20" y1="506.83" x2="564.90" y2="506.83" stroke="#222" stroke-width="1.0" />
<line x1="755.80" y1="506.83" x2="753.10" y2="506.83" stroke="#222" stroke-width="1.0" />
<g transform="translate(557.60 511.53) scale(0.92 1)"><text x="-12.71" y="0" class="tk">-2</text></g>
<line x1="562.20" y1="472.67" x2="564.90" y2="472.67" stroke="#222" stroke-width="1.0" />
<line x1="755.80" y1="472.67" x2="753.10" y2="472.67" stroke="#222" stroke-width="1.0" />
<g transform="translate(557.60 477.37) scale(0.92 1)"><text x="-12.71" y="0" class="tk">-</text><path class="tk1" transform="translate(-7.95 0) scale(0.006982 -0.006982)" d="M515 0V1237L197 1010V1180L530 1409H696V0Z"/></g>
<line x1="562.20" y1="438.50" x2="564.90" y2="438.50" stroke="#222" stroke-width="1.0" />
<line x1="755.80" y1="438.50" x2="753.10" y2="438.50" stroke="#222" stroke-width="1.0" />
<g transform="translate(557.60 443.20) scale(0.92 1)"><text x="-7.95" y="0" class="tk">0</text></g>
<line x1="562.20" y1="404.33" x2="564.90" y2="404.33" stroke="#222" stroke-width="1.0" />
<line x1="755.80" y1="404.33" x2="753.10" y2="404.33" stroke="#222" stroke-width="1.0" />
<g transform="translate(557.60 409.03) scale(0.92 1)"><path class="tk1" transform="translate(-7.95 0) scale(0.006982 -0.006982)" d="M515 0V1237L197 1010V1180L530 1409H696V0Z"/></g>
<line x1="562.20" y1="370.17" x2="564.90" y2="370.17" stroke="#222" stroke-width="1.0" />
<line x1="755.80" y1="370.17" x2="753.10" y2="370.17" stroke="#222" stroke-width="1.0" />
<g transform="translate(557.60 374.87) scale(0.92 1)"><text x="-7.95" y="0" class="tk">2</text></g>
<g transform="translate(557.60 340.70) scale(0.92 1)"><text x="-7.95" y="0" class="tk">3</text></g>
<text x="603.20" y="322.00" class="ti" textLength="38.20" lengthAdjust="spacingAndGlyphs">succ</text>
<text x="645.80" y="322.00" class="ti" textLength="65.70" lengthAdjust="spacingAndGlyphs">(r=-0.3)</text>
<text x="588.61" y="578.10" class="lb">Dilution rate (h-</text>
<path class="lb1" transform="translate(710.17 578.10) scale(0.008691 -0.008691)" d="M515 0V1237L197 1010V1180L530 1409H696V0Z"/>
<text x="720.07" y="578.10" class="lb">)</text>
<polyline points="600.90,483.00 639.60,419.50 717.00,476.00" fill="none" stroke="#5a5a5a" stroke-width="1.1" stroke-dasharray="1.25 4.1"/>
<line x1="600.90" y1="473.25" x2="600.90" y2="491.75" stroke="#222" stroke-width="1.15" />
<line x1="598.60" y1="473.25" x2="603.20" y2="473.25" stroke="#222" stroke-width="1.0" />
<line x1="598.60" y1="491.75" x2="603.20" y2="491.75" stroke="#222" stroke-width="1.0" />
<path d="M600.90 476.40 L606.00 483.00 L600.90 489.60 L595.80 483.00 Z" fill="#000"/>
<path d="M639.60 412.90 L644.70 419.50 L639.60 426.10 L634.50 419.50 Z" fill="#000"/>
<line x1="717.00" y1="469.50" x2="717.00" y2="482.00" stroke="#222" stroke-width="1.15" />
<line x1="714.70" y1="469.50" x2="719.30" y2="469.50" stroke="#222" stroke-width="1.0" />
<line x1="714.70" y1="482.00" x2="719.30" y2="482.00" stroke="#222" stroke-width="1.0" />
<path d="M717.00 469.40 L722.10 476.00 L717.00 482.60 L711.90 476.00 Z" fill="#000"/>
<line x1="600.90" y1="404.50" x2="600.90" y2="452.50" stroke="#ff3030" stroke-width="1.2" />
<line x1="598.60" y1="404.50" x2="602.40" y2="404.50" stroke="#ff3030" stroke-width="1.0" />
<line x1="598.60" y1="452.50" x2="602.40" y2="452.50" stroke="#ff3030" stroke-width="1.0" />
<line x1="639.60" y1="383.25" x2="639.60" y2="466.25" stroke="#ff3030" stroke-width="1.2" />
<line x1="637.30" y1="383.25" x2="641.10" y2="383.25" stroke="#ff3030" stroke-width="1.0" />
<line x1="637.30" y1="466.25" x2="641.10" y2="466.25" stroke="#ff3030" stroke-width="1.0" />
<line x1="717.00" y1="362.00" x2="717.00" y2="429.50" stroke="#ff3030" stroke-width="1.2" />
<line x1="714.70" y1="362.00" x2="718.50" y2="362.00" stroke="#ff3030" stroke-width="1.0" />
<line x1="714.70" y1="429.50" x2="718.50" y2="429.50" stroke="#ff3030" stroke-width="1.0" />
<polyline points="600.90,428.25 639.60,424.75 717.00,396.50" fill="none" stroke="#ff3030" stroke-width="1.3"/>
<circle cx="600.90" cy="428.25" r="5.2" fill="#fff" stroke="#ff3030" stroke-width="1.3"/>
<circle cx="639.60" cy="424.75" r="5.2" fill="#fff" stroke="#ff3030" stroke-width="1.3"/>
<circle cx="717.00" cy="396.50" r="5.2" fill="#fff" stroke="#ff3030" stroke-width="1.3"/>
<text transform="translate(26.3 240.30) rotate(-90)" class="yl" textLength="66.0" lengthAdjust="spacingAndGlyphs">Relative</text>
<text transform="translate(26.3 165.60) rotate(-90)" class="yl" textLength="115.6" lengthAdjust="spacingAndGlyphs">concentration</text>
<text transform="translate(26.3 531.40) rotate(-90)" class="yl" textLength="66.0" lengthAdjust="spacingAndGlyphs">Relative</text>
<text transform="translate(26.3 456.70) rotate(-90)" class="yl" textLength="115.6" lengthAdjust="spacingAndGlyphs">concentration</text>
<line x1="810.80" y1="403.40" x2="861.20" y2="403.40" stroke="#000" stroke-width="1.3" stroke-dasharray="3.6 1.6"/>
<line x1="810.80" y1="433.00" x2="861.20" y2="433.00" stroke="#ff3030" stroke-width="1.4" />
<g transform="translate(873.2 411.9) scale(0.89 1)"><text class="lg" x="0" y="0">W33</text><path fill="#000" stroke="#000" stroke-width="27" transform="translate(47.09 0) scale(0.011182 -0.011182)" d="M515 0V1237L197 1010V1180L530 1409H696V0Z"/><text class="lg" x="59.82" y="0">0</text></g>
<text transform="translate(872.8 437.3) scale(0.89 1)" class="lg">Δ<tspan font-style="italic">rel</tspan>A</text>
</svg>
</body></html>
